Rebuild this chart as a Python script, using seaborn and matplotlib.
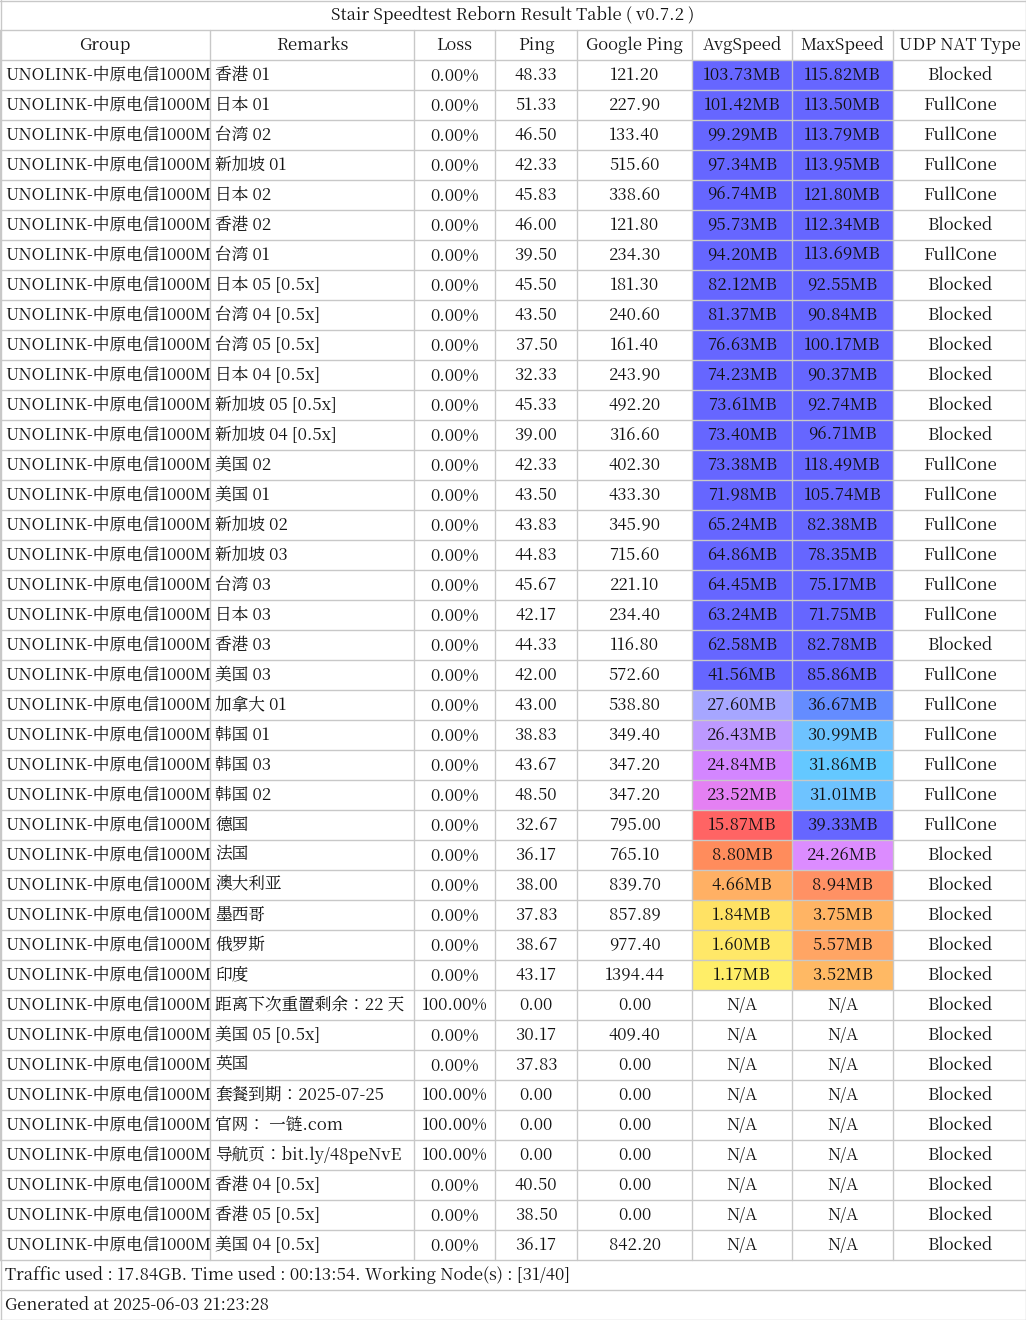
import matplotlib
matplotlib.use("Agg")
import matplotlib.pyplot as plt
from matplotlib import font_manager
from matplotlib.patches import Rectangle
import seaborn as sns

sns.set_theme(style="white")
cjk = [f.name for f in font_manager.fontManager.ttflist if "CJK" in f.name]
if not cjk:
    import glob
    for p in glob.glob("/usr/share/fonts/**/*CJK*", recursive=True):
        try:
            font_manager.fontManager.addfont(p)
        except Exception:
            pass
    cjk = [f.name for f in font_manager.fontManager.ttflist if "CJK" in f.name]
pref = [n for n in cjk if n.endswith("SC")] + cjk
plt.rcParams["font.family"] = "sans-serif"
plt.rcParams["font.sans-serif"] = pref[:1] + ["Noto Sans CJK SC", "DejaVu Sans"]

title = "Stair Speedtest Reborn Result Table ( v0.7.2 )"
headers = ["Group", "Remarks", "Loss", "Ping", "Google Ping", "AvgSpeed", "MaxSpeed", "UDP NAT Type"]
group = "UNOLINK-中原电信1000M"
remarks = ["香港 01", "日本 01", "台湾 02", "新加坡 01", "日本 02", "香港 02", "台湾 01", "日本 05 [0.5x]",
           "台湾 04 [0.5x]", "台湾 05 [0.5x]", "日本 04 [0.5x]", "新加坡 05 [0.5x]", "新加坡 04 [0.5x]",
           "美国 02", "美国 01", "新加坡 02", "新加坡 03", "台湾 03", "日本 03", "香港 03", "美国 03",
           "加拿大 01", "韩国 01", "韩国 03", "韩国 02", "德国", "法国", "澳大利亚", "墨西哥", "俄罗斯", "印度",
           "距离下次重置剩余：22 天", "美国 05 [0.5x]", "英国", "套餐到期：2025-07-25", "官网： 一链.com",
           "导航页：bit.ly/48peNvE", "香港 04 [0.5x]", "香港 05 [0.5x]", "美国 04 [0.5x]"]
loss = ["0.00%"] * 31 + ["100.00%", "0.00%", "0.00%", "100.00%", "100.00%", "100.00%", "0.00%", "0.00%", "0.00%"]
ping = ["48.33", "51.33", "46.50", "42.33", "45.83", "46.00", "39.50", "45.50", "43.50", "37.50", "32.33",
        "45.33", "39.00", "42.33", "43.50", "43.83", "44.83", "45.67", "42.17", "44.33", "42.00", "43.00",
        "38.83", "43.67", "48.50", "32.67", "36.17", "38.00", "37.83", "38.67", "43.17", "0.00", "30.17",
        "37.83", "0.00", "0.00", "0.00", "40.50", "38.50", "36.17"]
gping = ["121.20", "227.90", "133.40", "515.60", "338.60", "121.80", "234.30", "181.30", "240.60", "161.40",
         "243.90", "492.20", "316.60", "402.30", "433.30", "345.90", "715.60", "221.10", "234.40", "116.80",
         "572.60", "538.80", "349.40", "347.20", "347.20", "795.00", "765.10", "839.70", "857.89", "977.40",
         "1394.44", "0.00", "409.40", "0.00", "0.00", "0.00", "0.00", "0.00", "0.00", "842.20"]
avg = ["103.73MB", "101.42MB", "99.29MB", "97.34MB", "96.74MB", "95.73MB", "94.20MB", "82.12MB", "81.37MB",
       "76.63MB", "74.23MB", "73.61MB", "73.40MB", "73.38MB", "71.98MB", "65.24MB", "64.86MB", "64.45MB",
       "63.24MB", "62.58MB", "41.56MB", "27.60MB", "26.43MB", "24.84MB", "23.52MB", "15.87MB", "8.80MB",
       "4.66MB", "1.84MB", "1.60MB", "1.17MB"] + ["N/A"] * 9
mx = ["115.82MB", "113.50MB", "113.79MB", "113.95MB", "121.80MB", "112.34MB", "113.69MB", "92.55MB", "90.84MB",
      "100.17MB", "90.37MB", "92.74MB", "96.71MB", "118.49MB", "105.74MB", "82.38MB", "78.35MB", "75.17MB",
      "71.75MB", "82.78MB", "85.86MB", "36.67MB", "30.99MB", "31.86MB", "31.01MB", "39.33MB", "24.26MB",
      "8.94MB", "3.75MB", "5.57MB", "3.52MB"] + ["N/A"] * 9
nat = ["Blocked", "FullCone", "FullCone", "FullCone", "FullCone", "Blocked", "FullCone", "Blocked", "Blocked",
       "Blocked", "Blocked", "Blocked", "Blocked", "FullCone", "FullCone", "FullCone", "FullCone", "FullCone",
       "FullCone", "Blocked", "FullCone", "FullCone", "FullCone", "FullCone", "FullCone", "FullCone", "Blocked",
       "Blocked", "Blocked", "Blocked", "Blocked"] + ["Blocked"] * 9
footer1 = "Traffic used : 17.84GB. Time used : 00:13:54. Working Node(s) : [31/40]"
footer2 = "Generated at 2025-06-03 21:23:28"

# cell colours (style)
B = "#6666ff"
avg_col = [B] * 21 + ["#a6a6ff", "#bd99ff", "#d386ff", "#e480f3", "#ff6464", "#ff8c5c", "#ffb064",
                      "#ffe264", "#ffe868", "#ffee68"] + [None] * 9
max_col = [B] * 21 + ["#648cff", "#6ec3ff", "#64c8ff", "#6ec3ff", B, "#dc8cff", "#ff9164",
                      "#ffb464", "#ffa564", "#ffb964"] + [None] * 9

W, H = 1026, 1320
RH = 30
xs = [0, 210, 414, 495, 577, 692, 792, 893, 1026]

fig = plt.figure(figsize=(W / 100, H / 100), dpi=100)
ax = fig.add_axes([0, 0, 1, 1])
ax.set_xlim(0, W)
ax.set_ylim(H, 0)
ax.axis("off")
lc = "#c8c8c8"
fs = 12
tc = "#111111"

def hline(y):
    ax.plot([0, W], [y, y], color=lc, lw=1)

ax.text(W / 2, RH / 2, title, ha="center", va="center", fontsize=fs, color=tc)
hline(RH)
rows = [headers] + [[group, remarks[i], loss[i], ping[i], gping[i], avg[i], mx[i], nat[i]] for i in range(len(remarks))]
for r, row in enumerate(rows):
    y0 = RH * (r + 1)
    if r > 0:
        i = r - 1
        for c, col in ((5, avg_col[i]), (6, max_col[i])):
            if col:
                ax.add_patch(Rectangle((xs[c], y0), xs[c + 1] - xs[c], RH, color=col, lw=0))
    for c, val in enumerate(row):
        if r > 0 and c < 2:
            ax.text(xs[c] + 5, y0 + RH / 2, val, ha="left", va="center", fontsize=fs, color=tc)
        else:
            ax.text((xs[c] + xs[c + 1]) / 2, y0 + RH / 2, val, ha="center", va="center", fontsize=fs, color=tc)
    hline(y0 + RH)
ytab0, ytab1 = RH, RH * (len(rows) + 1)
for x in xs:
    ax.plot([x, x], [ytab0, ytab1], color=lc, lw=1)
ax.plot([0.5, 0.5], [0, H], color=lc, lw=1)
ax.plot([W - 0.5, W - 0.5], [0, H], color=lc, lw=1)
ax.plot([0, W], [0.5, 0.5], color=lc, lw=1)
ax.text(5, ytab1 + RH / 2, footer1, ha="left", va="center", fontsize=fs, color=tc)
hline(ytab1 + RH)
ax.text(5, ytab1 + RH * 1.5, footer2, ha="left", va="center", fontsize=fs, color=tc)
hline(H - 0.5)
fig.savefig("out.png", dpi=100)
